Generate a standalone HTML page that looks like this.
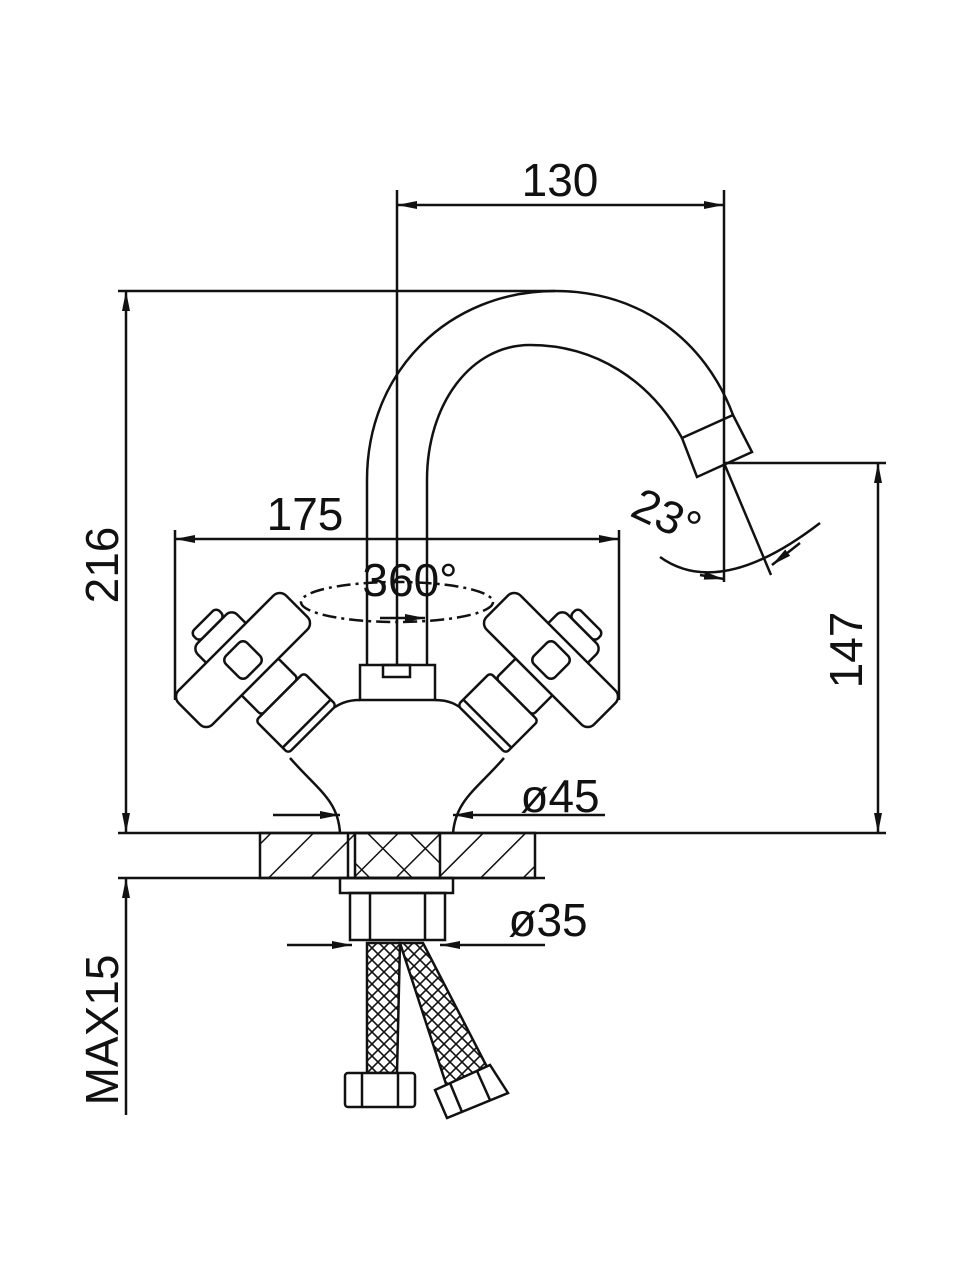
<!DOCTYPE html>
<html><head><style>
html,body{margin:0;padding:0;background:#fff;}
svg{display:block;}
text{font-family:"Liberation Sans",sans-serif;fill:#111;}
</style></head><body>
<svg width="960" height="1280" viewBox="0 0 960 1280" xmlns="http://www.w3.org/2000/svg">
<defs>
<pattern id="h1" patternUnits="userSpaceOnUse" width="30" height="30" patternTransform="rotate(45)">
<line x1="0" y1="0" x2="0" y2="30" stroke="#111" stroke-width="3"/></pattern>
<pattern id="h2" patternUnits="userSpaceOnUse" width="30" height="30" patternTransform="rotate(-45)">
<line x1="0" y1="0" x2="0" y2="30" stroke="#111" stroke-width="3"/></pattern>
<pattern id="mesh" patternUnits="userSpaceOnUse" width="12" height="12">
<path d="M0,0 L12,12 M12,0 L0,12" stroke="#111" stroke-width="1.6"/></pattern>
<marker id="a" viewBox="0 0 20 10" refX="20" refY="5" markerWidth="20" markerHeight="10" markerUnits="userSpaceOnUse" orient="auto-start-reverse">
<path d="M0,1 L20,5 L0,9 z" fill="#111"/></marker>
<g id="hd">
<rect x="22" y="-26" width="30" height="52" rx="4" fill="#fff"/>
<rect x="52" y="-34" width="46" height="68" rx="4" fill="#fff"/>
<line x1="90" y1="-34" x2="90" y2="34"/>
<rect x="-56" y="-18" width="12" height="36" rx="5" fill="#fff"/>
<rect x="-44" y="-28" width="66" height="56" rx="8" fill="#fff"/>
<rect x="-24" y="-76" width="48" height="152" rx="9" fill="#fff"/>
<rect x="-15" y="-15" width="30" height="30" rx="6" fill="#fff"/>
</g>
</defs>
<g stroke="#111" stroke-width="2.5" fill="none">
<line x1="397" y1="190" x2="397" y2="665"/>
<line x1="724" y1="190" x2="724" y2="582"/>
<line x1="397" y1="205" x2="724" y2="205" marker-start="url(#a)" marker-end="url(#a)"/>
<line x1="118" y1="291" x2="555" y2="291"/>
<line x1="126" y1="291" x2="126" y2="833" marker-start="url(#a)" marker-end="url(#a)"/>
<line x1="175" y1="530" x2="175" y2="700"/>
<line x1="619" y1="530" x2="619" y2="700"/>
<line x1="175" y1="539" x2="619" y2="539" marker-start="url(#a)" marker-end="url(#a)"/>
<line x1="724" y1="463" x2="886" y2="463"/>
<line x1="878" y1="463" x2="878" y2="833" marker-start="url(#a)" marker-end="url(#a)"/>
<line x1="118" y1="833" x2="886" y2="833"/>
<line x1="118" y1="878" x2="545" y2="878"/>
<line x1="126" y1="878" x2="126" y2="1115" marker-start="url(#a)"/>
<path d="M367,665 L367,480 C367,370 450,291 555,291 C640,291 705,340 733,415"/>
<path d="M427,665 L427,480 C427,405 470,345 530,345 C595,345 650,380 682,438"/>
<path d="M682,438 L733,415 L752,452 L697,477 Z"/>
<line x1="724" y1="463" x2="771" y2="575"/>
<path d="M660,557 Q720,600 820,523"/>
<path d="M700,575 L724,579" marker-end="url(#a)"/>
<path d="M800,543 L772,565" marker-end="url(#a)"/>
<ellipse cx="397" cy="602" rx="96" ry="20" stroke-dasharray="14,5,3,5"/>
<line x1="380" y1="618" x2="425" y2="618" marker-end="url(#a)"/>
<rect x="360" y="665" width="75" height="35"/>
<rect x="383" y="665" width="27" height="12"/>
<path d="M290,758 C318,790 338,800 340,833"/>
<path d="M504,758 C476,790 456,800 453,833"/>
<path d="M330,710 C338,705 345,700 360,700 M435,700 C450,700 457,705 464,710"/>
<use href="#hd" transform="translate(243,660) rotate(45)"/>
<use href="#hd" transform="translate(551,660) scale(-1,1) rotate(45)"/>
<line x1="273" y1="815" x2="340" y2="815" marker-end="url(#a)"/>
<line x1="605" y1="815" x2="453" y2="815" marker-end="url(#a)"/>
<rect x="260" y="833" width="275" height="45" fill="url(#h1)"/>
<rect x="355" y="833" width="85" height="45" fill="url(#h2)"/>
<line x1="348" y1="833" x2="348" y2="878"/>
<rect x="340" y="878" width="113" height="15"/>
<rect x="350" y="893" width="95" height="47"/>
<line x1="370" y1="893" x2="370" y2="940"/><line x1="425" y1="893" x2="425" y2="940"/>
<line x1="287" y1="945" x2="352" y2="945" marker-end="url(#a)"/>
<line x1="545" y1="945" x2="440" y2="945" marker-end="url(#a)"/>
<path d="M367,943 L400,943 L397,1073 L367,1073 Z" fill="url(#mesh)"/>
<path d="M400,943 L423,943 L487,1067 L447,1087 Z" fill="url(#mesh)"/>
<rect x="345" y="1073" width="70" height="34" rx="3" fill="#fff"/>
<line x1="362" y1="1073" x2="362" y2="1107"/><line x1="398" y1="1073" x2="398" y2="1107"/>
<path d="M435,1090 L490,1065 L508,1093 L447,1118 Z" fill="#fff"/>
<line x1="450" y1="1083" x2="462" y2="1112"/><line x1="477" y1="1071" x2="490" y2="1100"/>
</g>
<g font-size="46">
<text x="560" y="196" text-anchor="middle">130</text>
<text x="305" y="530" text-anchor="middle">175</text>
<text x="410" y="596" text-anchor="middle">360°</text>
<text x="560" y="812" text-anchor="middle">ø45</text>
<text x="548" y="936" text-anchor="middle">ø35</text>
<text transform="translate(118,565) rotate(-90)" text-anchor="middle">216</text>
<text transform="translate(862,650) rotate(-90)" text-anchor="middle">147</text>
<text transform="translate(118,1030) rotate(-90)" text-anchor="middle">MAX15</text>
<text transform="translate(660,530) rotate(25)" text-anchor="middle">23°</text>
</g>
</svg>
</body></html>
